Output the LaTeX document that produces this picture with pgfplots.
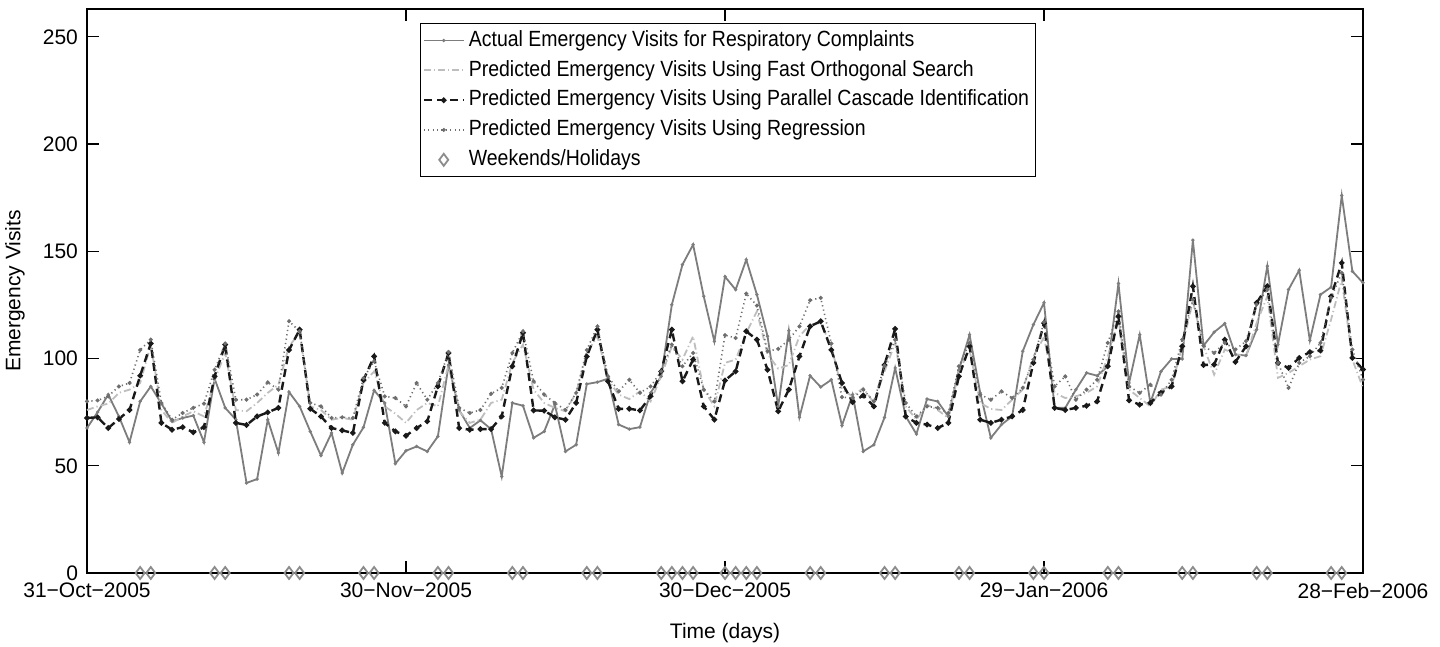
\documentclass[border=0pt]{standalone}
\usepackage{fontspec}
\setmainfont{Liberation Sans}
\newfontfamily\legendfont[FakeStretch=0.885]{Liberation Sans}
\usepackage{pgfplots}
\pgfplotsset{compat=1.18}
\usepackage{pgfplotstable}

\definecolor{actgray}{RGB}{125,125,125}
\definecolor{fosgray}{RGB}{190,190,190}
\definecolor{reggray}{RGB}{110,110,110}
\definecolor{pcidark}{RGB}{25,25,25}
\definecolor{daygray}{RGB}{140,140,140}

% day, actual, fast orthogonal search, parallel cascade, regression
\pgfplotstableread{
day actual fos pci reg
0 67.6 76.0 72.3 80.0
1 75.0 77.7 72.6 80.5
2 83.2 79.0 67.6 82.4
3 73.0 84.0 71.8 87.0
4 61.0 85.5 76.0 88.6
5 80.0 88.6 92.0 104.0
6 87.0 106.5 107.0 108.8
7 79.0 76.0 70.0 79.3
8 70.7 70.0 66.8 71.5
9 72.3 73.0 68.0 74.6
10 73.4 75.4 65.6 77.0
11 61.0 73.0 68.0 79.0
12 90.6 90.0 91.7 94.8
13 77.0 102.6 106.5 107.0
14 71.5 76.0 70.0 80.8
15 42.0 75.4 69.0 80.8
16 43.8 79.3 73.0 83.2
17 71.5 84.0 74.9 88.9
18 56.0 87.8 77.0 85.5
19 84.4 105.7 104.0 117.4
20 77.7 112.0 113.5 112.7
21 66.0 77.7 76.6 79.3
22 54.8 76.0 73.0 77.7
23 65.3 71.5 67.6 72.3
24 46.6 72.3 66.5 72.6
25 59.8 71.5 65.3 72.3
26 67.9 88.6 90.0 90.9
27 85.2 94.0 101.0 98.7
28 79.3 77.7 70.0 82.4
29 51.0 74.3 66.0 81.6
30 57.0 70.0 64.0 77.7
31 59.0 76.0 67.6 88.6
32 56.7 79.3 70.7 80.8
33 63.7 77.7 87.0 88.6
34 97.0 97.0 102.6 103.0
35 76.0 75.4 67.6 77.0
36 67.6 70.0 66.8 74.6
37 71.2 71.5 67.1 76.0
38 67.1 79.3 67.1 83.6
39 45.0 80.8 73.0 86.3
40 79.3 98.0 96.4 102.6
41 78.0 106.5 112.0 112.7
42 63.0 85.5 75.8 89.4
43 66.0 79.3 75.7 83.2
44 78.5 77.0 72.6 79.3
45 56.7 75.4 71.5 76.0
46 59.8 84.0 79.3 84.0
47 88.1 102.6 101.0 104.0
48 89.0 110.4 113.5 115.0
49 90.6 90.1 89.4 91.7
50 69.2 83.2 76.5 84.7
51 67.1 81.1 76.6 90.1
52 68.0 84.7 75.8 84.0
53 84.0 80.0 82.4 87.0
54 91.7 91.7 94.0 94.0
55 125.1 105.7 113.5 106.5
56 143.8 99.5 89.4 96.4
57 153.1 110.4 99.5 102.6
58 129.0 85.5 77.7 85.5
59 108.0 77.7 71.5 80.0
60 138.2 98.0 89.8 110.9
61 132.1 99.5 94.0 109.6
62 146.1 112.0 112.7 130.3
63 129.8 122.0 108.8 124.7
64 110.4 102.0 94.8 103.4
65 77.7 95.3 75.4 104.5
66 113.0 97.0 85.5 108.8
67 72.6 110.4 101.0 115.0
68 92.0 115.8 115.0 127.2
69 86.7 116.6 117.4 128.3
70 90.1 105.7 104.0 107.0
71 68.8 85.5 88.6 82.0
72 83.2 82.4 79.7 81.6
73 56.7 86.3 82.8 85.5
74 59.8 79.3 77.7 80.0
75 72.5 94.0 97.0 96.7
76 95.6 107.3 113.8 108.8
77 73.0 77.7 73.0 79.3
78 64.8 71.5 70.0 73.0
79 81.1 78.5 69.2 77.7
80 80.0 76.0 67.6 77.0
81 73.0 72.3 70.0 74.6
82 94.8 94.0 91.7 96.4
83 111.1 104.0 105.7 107.3
84 84.0 79.3 71.5 83.2
85 63.0 76.5 70.0 80.8
86 69.2 76.0 71.5 84.7
87 73.0 80.8 73.0 81.6
88 103.4 85.5 76.0 86.3
89 115.8 101.0 98.0 99.5
90 126.0 110.0 116.5 117.0
91 77.0 84.0 77.0 87.0
92 77.0 81.6 76.0 91.7
93 85.5 82.4 77.0 80.8
94 93.3 84.0 78.0 85.5
95 92.0 87.0 80.0 90.1
96 96.4 101.0 96.4 107.3
97 135.0 118.1 119.7 122.0
98 88.6 85.5 80.5 87.0
99 111.1 81.6 78.5 84.0
100 79.3 77.7 79.3 87.8
101 94.0 85.5 84.0 83.2
102 99.8 87.0 87.0 90.1
103 99.8 105.7 105.7 108.8
104 155.2 126.7 133.7 127.5
105 106.0 105.7 97.0 106.0
106 112.3 92.5 97.2 102.6
107 116.3 104.2 108.8 107.3
108 101.9 101.9 98.4 104.2
109 101.4 101.1 105.7 108.1
110 113.5 116.6 126.0 125.2
111 143.1 129.0 133.7 132.2
112 106.5 91.0 98.0 98.0
113 132.2 93.3 95.6 86.3
114 141.2 96.4 100.3 98.0
115 108.5 99.5 103.0 101.1
116 129.8 101.1 103.7 107.3
117 133.3 118.2 129.0 128.3
118 176.0 136.9 144.6 140.0
119 140.7 99.5 100.3 104.2
120 135.3 86.3 94.9 90.2
}\visits

% weekends and holidays
\pgfplotstableread{
day y
5 0
6 0
12 0
13 0
19 0
20 0
26 0
27 0
33 0
34 0
40 0
41 0
47 0
48 0
54 0
55 0
56 0
57 0
60 0
61 0
62 0
63 0
68 0
69 0
75 0
76 0
82 0
83 0
89 0
90 0
96 0
97 0
103 0
104 0
110 0
111 0
117 0
118 0
}\offdays

\begin{document}
\begin{tikzpicture}
\useasboundingbox (-43.5pt,-37pt) rectangle (676.5pt,286.5pt);
\begin{axis}[
  at={(0,0)}, anchor=south west,
  scale only axis,
  width=638pt, height=282pt,
  xmin=0, xmax=120,
  ymin=0, ymax=263,
  xtick={0,30,60,90,120},
  xticklabels={31−Oct−2005,30−Nov−2005,30−Dec−2005,29−Jan−2006,28−Feb−2006},
  ytick={0,50,100,150,200,250},
  tick align=inside,
  tick pos=both,
  major tick length=6pt,
  tick style={black, line width=0.6pt},
  axis line style={black, line width=0.6pt},
  font=\fontsize{10.5}{12}\selectfont,
  /pgf/number format/assume math mode=true,
  xlabel={Time (days)},
  ylabel={Emergency Visits},
  xlabel style={at={([yshift=-30pt]axis description cs:0.5,0)}, anchor=center},
  ylabel style={at={([xshift=-36pt]axis description cs:0,0.5)}, anchor=center},
  yticklabel style={xshift=-1pt},
  xticklabel style={yshift=-1.5pt},
  clip=false,
  legend style={at={(0.261,0.975)}, anchor=north west,
    draw=black, line width=0.6pt, inner sep=1pt,
    font=\legendfont\fontsize{11}{12}\selectfont, row sep=0pt,
    nodes={inner ysep=2.3pt, text height=8pt, text depth=2.3pt}},
  legend cell align=left,
  legend image code/.code={\draw[mark repeat=2,mark phase=2]
    plot coordinates {(0cm,0cm) (0.35cm,0cm) (0.7cm,0cm)};},
]
\addplot[actgray, line width=0.9pt, mark=*, mark size=0.3pt]
  table[x=day, y=actual]{\visits};
\addlegendentry{Actual Emergency Visits for Respiratory Complaints}
\addplot[fosgray, line width=0.9pt,
  dash pattern=on 3.5pt off 1.5pt on 0.6pt off 1.5pt]
  table[x=day, y=fos]{\visits};
\addlegendentry{Predicted Emergency Visits Using Fast Orthogonal Search}
\addplot[pcidark, line width=1.2pt, dash pattern=on 4pt off 2.5pt,
  mark=*, mark size=0.7pt, mark options={solid}]
  table[x=day, y=pci]{\visits};
\addlegendentry{Predicted Emergency Visits Using Parallel Cascade Identification}
\addplot[reggray, line width=0.8pt, dash pattern=on 0.6pt off 1.6pt,
  mark=*, mark size=0.55pt, mark options={solid}]
  table[x=day, y=reg]{\visits};
\addlegendentry{Predicted Emergency Visits Using Regression}
\addplot[daygray, only marks, mark=diamond, mark size=3pt,
  mark options={line width=0.9pt}]
  table[x=day, y=y]{\offdays};
\addlegendentry{Weekends/Holidays}
\end{axis}
\end{tikzpicture}
\end{document}
